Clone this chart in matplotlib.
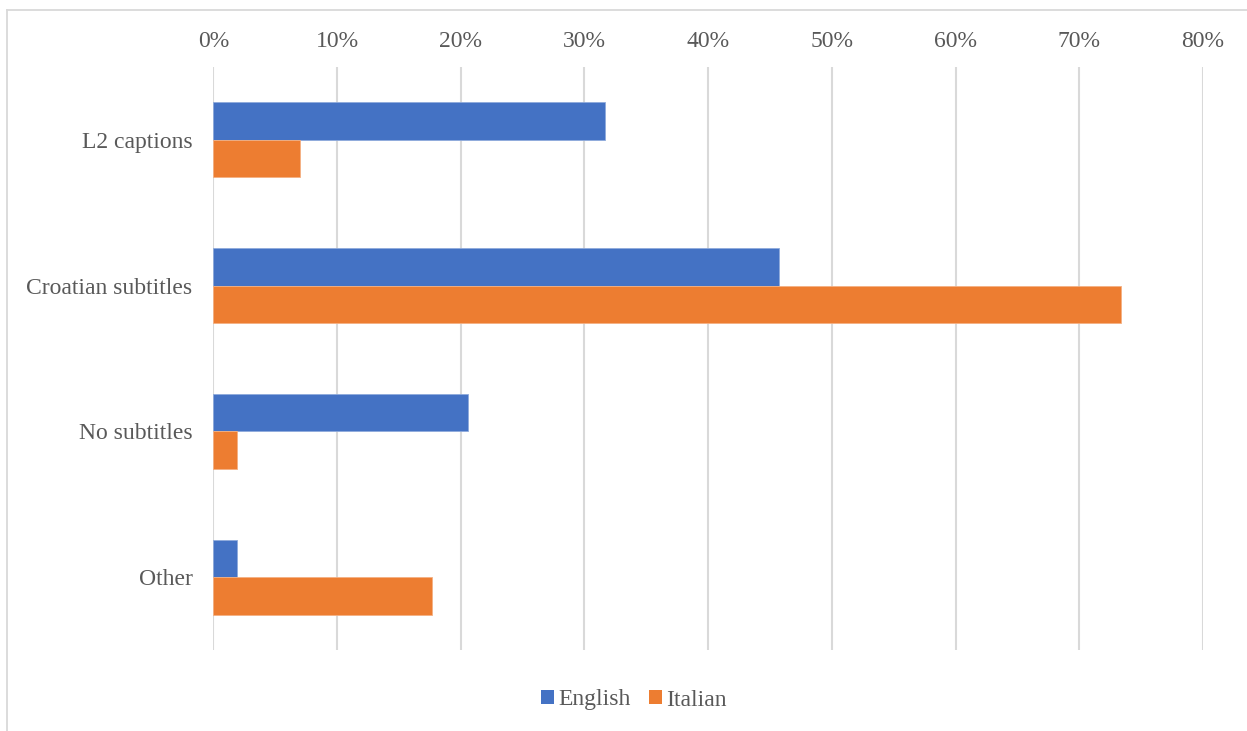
import matplotlib
matplotlib.use("Agg")
import matplotlib.pyplot as plt
from matplotlib.lines import Line2D
from matplotlib.patches import Patch
import numpy as np

categories = ["L2 captions", "Croatian subtitles", "No subtitles", "Other"]
english = [31.7, 45.7, 20.6, 1.9]
italian = [7.0, 73.4, 1.9, 17.7]
series_names = ["English", "Italian"]
xticks = [0, 10, 20, 30, 40, 50, 60, 70, 80]

c_en = "#4472C4"
c_it = "#ED7D31"
txt = "#595959"
grid = "#D9D9D9"

plt.rcParams['font.family'] = ['Liberation Serif', 'DejaVu Serif']

W, H = 1247, 731
fig = plt.figure(figsize=(W/100, H/100), dpi=100)
# axes: x from 213.3 to 1202.9 px, y from 67 to 650 px
left, right = 213.3, 1202.9
top, bottom = 67, 650
ax = fig.add_axes([left/W, 1-bottom/H, (right-left)/W, (bottom-top)/H])

y = np.arange(len(categories))
bw = 0.257
ax.barh(y - bw/2, english, height=bw, color=c_en, edgecolor="#8FAADC", linewidth=0.6, zorder=3)
ax.barh(y + bw/2, italian, height=bw, color=c_it, edgecolor="#F4B183", linewidth=0.6, zorder=3)

ax.set_ylim(len(categories) - 0.5, -0.5)
ax.set_xlim(0, 80)
ax.set_yticks(y)
ax.set_yticklabels(categories)
ax.set_xticks(xticks)
ax.set_xticklabels([f"{t}%" for t in xticks])
ax.xaxis.tick_top()
ax.tick_params(axis='x', length=0, pad=11, labelsize=17, labelcolor=txt)
ax.tick_params(axis='y', length=0, pad=15, labelsize=17, labelcolor=txt)
for s in ax.spines.values():
    s.set_visible(False)
ax.grid(axis='x', color=grid, linewidth=1.5, zorder=0)
ax.set_axisbelow(True)

handles = [Patch(facecolor=c_en, edgecolor='none'), Patch(facecolor=c_it, edgecolor='none')]
fig.legend(handles, series_names, loc='center', bbox_to_anchor=(634/W, 1-700/H),
           ncol=2, frameon=False, fontsize=17, labelcolor=txt,
           handlelength=0.55, handleheight=0.55, handletextpad=0.2, columnspacing=0.75)

# chart area border (top and left visible)
fig.add_artist(Line2D([7/W, 1], [1-10/H, 1-10/H], color="#D9D9D9", linewidth=1.3, transform=fig.transFigure))
fig.add_artist(Line2D([7/W, 7/W], [0, 1-10/H], color="#D9D9D9", linewidth=1.3, transform=fig.transFigure))

fig.savefig("out.png", dpi=100, facecolor="white")
